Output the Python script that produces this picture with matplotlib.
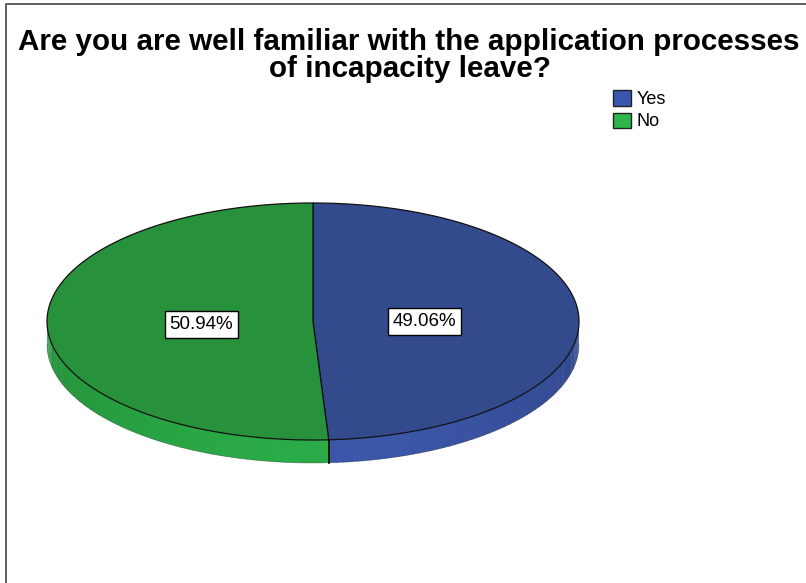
"""
Pie chart: familiarity with incapacity leave application processes.
Drawn as a tilted (3D-look) pie with a shaded rim, saved to out.png.
"""

import numpy as np
import matplotlib
matplotlib.use("Agg")
import matplotlib.pyplot as plt
from matplotlib.patches import Polygon, Patch
from matplotlib.colors import to_rgb

categories = ["Yes", "No"]
percentages = [49.06, 50.94]

TITLE_LINES = ["Are you are well familiar with the application processes",
               "of incapacity leave?"]

top_colors = ["#334a8c", "#27913b"]
rim_light = ["#3c57aa", "#2aab47"]
rim_dark = ["#334a90", "#25933c"]
legend_colors = ["#3a57b0", "#2db64b"]

plt.rcParams["font.family"] = ["Liberation Sans", "DejaVu Sans"]

W, H = 806, 583
fig = plt.figure(figsize=(W / 100, H / 100), dpi=100)
ax = fig.add_axes([0, 0, 1, 1])
ax.set_xlim(0, W)
ax.set_ylim(H, 0)
ax.axis("off")

# outer frame (top and left edges only)
ax.plot([5.5, 5.5, W], [H, 3.5, 3.5], color="#444444", lw=1.2)

# ellipse geometry in pixel space
cx, cy, rx, ry, depth = 313, 321.5, 266, 118.5, 23


def ell(t_deg, dy=0.0):
    t = np.radians(t_deg)
    return cx + rx * np.cos(t), cy - ry * np.sin(t) + dy


def mix(c1, c2, f):
    a, b = np.array(to_rgb(c1)), np.array(to_rgb(c2))
    return tuple(a + (b - a) * f)


# slice angle ranges: first slice starts at 12 o'clock, going clockwise
fracs = np.array(percentages) / sum(percentages)
starts, ends = [], []
a = 90.0
for f in fracs:
    starts.append(a - 360 * f)
    ends.append(a)
    a -= 360 * f

# rim (front half only, angles 180..360), lighter towards the front
for i in range(len(categories)):
    lo, hi = starts[i] % 360, ends[i] % 360
    if hi <= lo:
        hi += 360
    for off in (0, 360, -360):
        s, e = max(lo + off, 180), min(hi + off, 360)
        if e <= s:
            continue
        n = max(int((e - s) / 1.5), 1)
        edges = np.linspace(s, e, n + 1)
        for t0, t1 in zip(edges[:-1], edges[1:]):
            ts = np.linspace(t0, t1 + 0.3, 4)
            xt, yt = ell(ts)
            xb, yb = ell(ts[::-1], depth)
            shade = np.sin(np.radians((t0 + t1) / 2)) ** 2
            ax.add_patch(Polygon(np.column_stack([np.r_[xt, xb], np.r_[yt, yb]]),
                                 closed=True, lw=0,
                                 facecolor=mix(rim_dark[i], rim_light[i], shade)))

# rim bottom edge and seams between slices on the front
tb = np.linspace(180, 360, 200)
xb, yb = ell(tb, depth)
ax.plot(xb, yb, color="#222222", lw=0.5, alpha=0.4)
for b in starts:
    bb = b % 360
    if 180 < bb < 360:
        x0, y0 = ell(bb)
        ax.plot([x0, x0], [y0, y0 + depth], color="black", lw=1.2)

# top face wedges
for i in range(len(categories)):
    ts = np.linspace(starts[i], ends[i], 300)
    x, y = ell(ts)
    pts = np.column_stack([np.r_[cx, x], np.r_[cy, y]])
    ax.add_patch(Polygon(pts, closed=True, facecolor=top_colors[i],
                         edgecolor="#111111", lw=0.9, joinstyle="round"))

# percentage labels
for i in range(len(categories)):
    mid = (starts[i] + ends[i]) / 2
    lx = cx + 0.42 * rx * np.cos(np.radians(mid))
    ly = cy - 0.42 * ry * np.sin(np.radians(mid))
    ax.text(lx, ly + 1.5, f"{percentages[i]:.2f}%", ha="center", va="center",
            fontsize=13.5, color="black",
            bbox=dict(boxstyle="square,pad=0.25", fc="white", ec="black", lw=1.0))

# title, two centred lines
ax.text(409, 50, TITLE_LINES[0], ha="center", va="baseline", fontsize=21.3,
        fontweight="bold")
ax.text(410, 77, TITLE_LINES[1], ha="center", va="baseline", fontsize=21.3,
        fontweight="bold")

handles = [Patch(facecolor=c, edgecolor="#222222", lw=1.0) for c in legend_colors]
fig.legend(handles, categories, loc="upper left", bbox_to_anchor=(613 / W, 1 - 90 / H),
           frameon=False, fontsize=13, handlelength=1.0, handleheight=0.95,
           handletextpad=0.3, labelspacing=0.25, borderpad=0, borderaxespad=0)

fig.savefig("out.png", dpi=100)
